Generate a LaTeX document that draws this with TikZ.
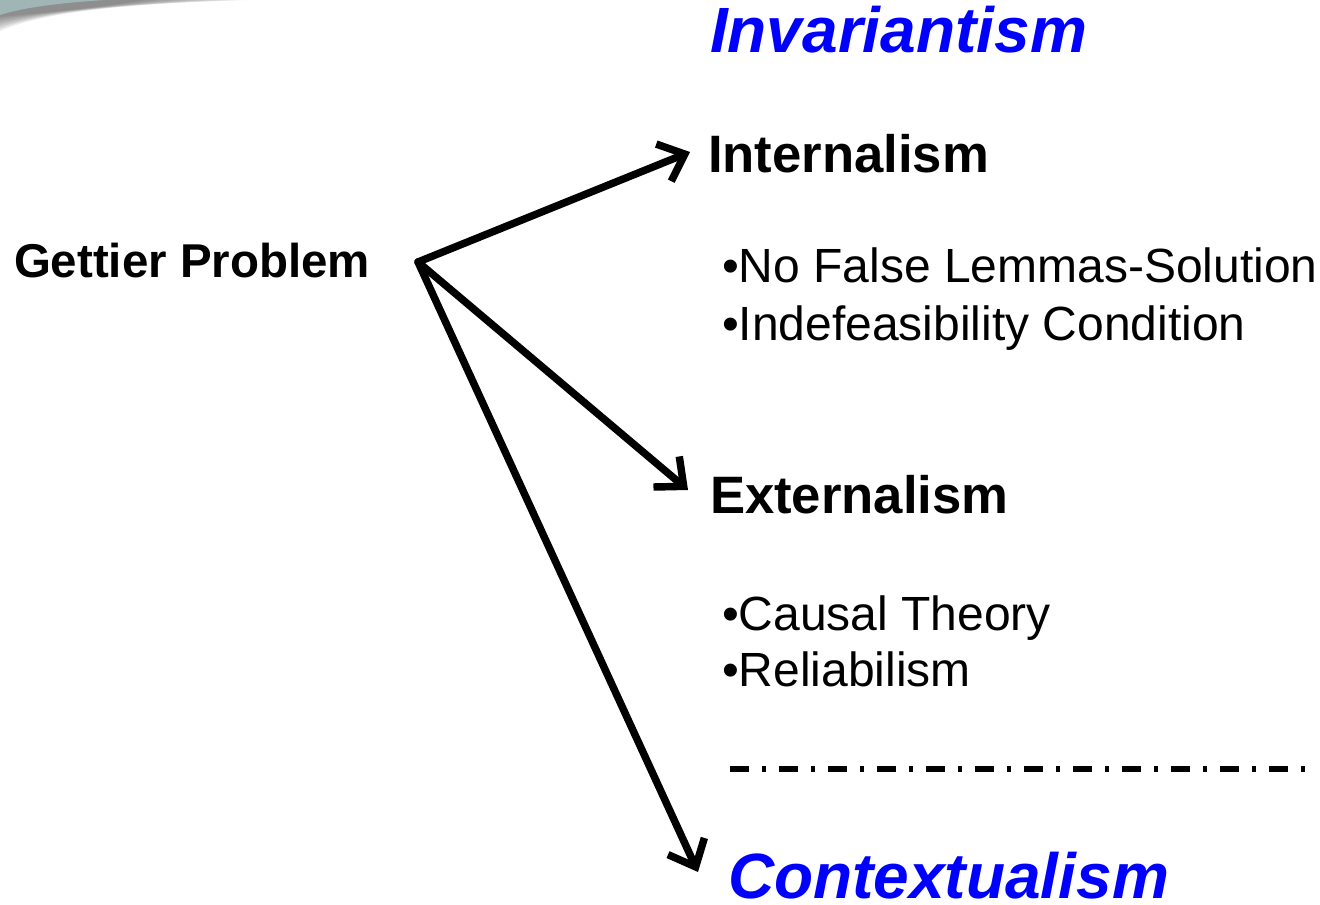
\documentclass[tikz,border=0pt]{standalone}
\usepackage{fontspec}
\setmainfont{Liberation Sans}
\usetikzlibrary{arrows.meta}
\definecolor{swoosh}{RGB}{160,182,182}
\definecolor{tblue}{RGB}{0,0,255}
\begin{document}
\begin{tikzpicture}[x=0.75pt,y=-0.75pt,
  txt/.style={anchor=base west,inner sep=0pt,outer sep=0pt},
  big/.style={txt,font=\fontsize{48}{56}\selectfont\bfseries\itshape,text=tblue},
  head/.style={txt,font=\fontsize{39.5}{46}\selectfont\bfseries},
  item/.style={txt,font=\fontsize{36}{42}\selectfont},
  arr/.style={line width=5.6pt,-{Straight Barb[length=17pt,width=30pt,line width=5.6pt]},line cap=round}]
\useasboundingbox (0,0) rectangle (1320,905);
% slide decoration
\foreach \k in {0,...,7}{
  \fill[black,opacity=0.07] (0,0) -- ({250-15*\k},0) .. controls ({150-6*\k},{3+0.5*\k}) and (50,{9+0.5*\k}) .. (0,{31-2*\k}) -- cycle;
}
\fill[swoosh] (0,0) -- (105,0) .. controls (60,3) and (25,7) .. (0,15) -- cycle;
% texts
\node[big] (inv) at (710,53) {Invariantism};
\node[head] (int) at (708,173) {Internalism};
\node[txt,font=\fontsize{35.6}{42}\selectfont\bfseries] (get) at (14,278) {Gettier Problem};
\node[item] (nf) at (722,283) {•No False Lemmas-Solution};
\node[item] (ind) at (722,341) {•Indefeasibility Condition};
\node[head] (ext) at (710,513) {Externalism};
\node[item] (ct) at (722,630) {•Causal Theory};
\node[item] (rel) at (722,686) {•Reliabilism};
\node[big] (con) at (728,898) {Contextualism};
% arrows
\coordinate (g) at (418,262);
\coordinate (eint) at (690,152);
\coordinate (eext) at (688,490);
\coordinate (econ) at (698,872);
\draw[arr] (g) -- (eint);
\draw[arr] (g) -- (eext);
\draw[arr] (g) -- (econ);
% dash-dot separator
\coordinate (d1) at (730,769);
\coordinate (d2) at (1310,769);
\draw[line width=3.8pt,dash pattern=on 14.25pt off 9.75pt on 3pt off 9.75pt] (d1) -- (d2);
\end{tikzpicture}
\end{document}
